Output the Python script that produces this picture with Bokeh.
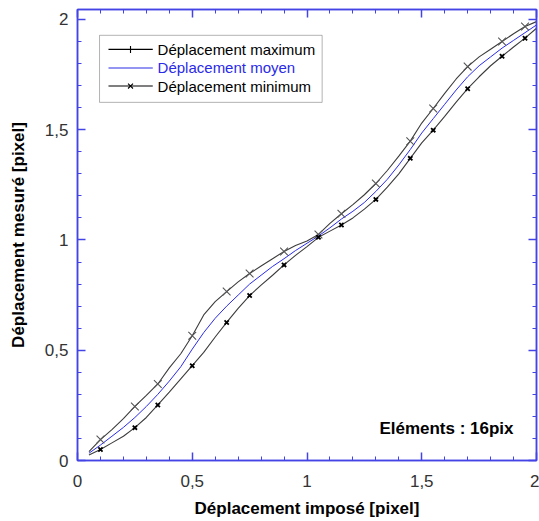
from bokeh.plotting import figure
from bokeh.models import (Range1d, LinearAxis, SingleIntervalTicker,
                          CustomJSTickFormatter, BoxAnnotation, Label)
from bokeh.embed import file_html
from bokeh.resources import INLINE

# Imposed displacement (pixel)
imposed = [0.05, 0.10, 0.15, 0.20, 0.25, 0.30, 0.35, 0.40, 0.45, 0.50,
           0.55, 0.60, 0.65, 0.70, 0.75, 0.80, 0.85, 0.90, 0.95, 1.00,
           1.05, 1.10, 1.15, 1.20, 1.25, 1.30, 1.35, 1.40, 1.45, 1.50,
           1.55, 1.60, 1.65, 1.70, 1.75, 1.80, 1.85, 1.90, 1.95, 2.00]

# Measured displacement: maximum, mean, minimum (pixel)
disp_max = [0.040, 0.095, 0.140, 0.190, 0.245, 0.295, 0.347, 0.420, 0.484, 0.566,
            0.660, 0.720, 0.766, 0.810, 0.848, 0.882, 0.915, 0.948, 0.975, 0.995,
            1.025, 1.075, 1.119, 1.160, 1.205, 1.256, 1.315, 1.380, 1.448, 1.530,
            1.596, 1.665, 1.730, 1.786, 1.830, 1.865, 1.900, 1.935, 1.968, 1.990]
disp_mean = [0.033, 0.070, 0.110, 0.150, 0.195, 0.245, 0.300, 0.360, 0.425, 0.505,
             0.580, 0.645, 0.700, 0.750, 0.800, 0.840, 0.880, 0.915, 0.952, 0.985,
             1.018, 1.055, 1.095, 1.130, 1.170, 1.220, 1.275, 1.340, 1.410, 1.485,
             1.550, 1.615, 1.680, 1.740, 1.790, 1.830, 1.870, 1.905, 1.940, 1.975]
disp_min = [0.025, 0.050, 0.080, 0.110, 0.149, 0.195, 0.252, 0.310, 0.370, 0.430,
            0.490, 0.560, 0.626, 0.690, 0.748, 0.795, 0.840, 0.887, 0.930, 0.970,
            1.012, 1.040, 1.068, 1.100, 1.140, 1.184, 1.240, 1.300, 1.370, 1.440,
            1.498, 1.560, 1.625, 1.686, 1.740, 1.790, 1.833, 1.875, 1.915, 1.960]

# Imposed displacements that carry a symbol on the max / min curves
marked = [0.10, 0.25, 0.35, 0.50, 0.65, 0.75, 0.90, 1.05, 1.15, 1.30,
          1.45, 1.55, 1.70, 1.85, 1.95]

series_names = ["Déplacement maximum", "Déplacement moyen", "Déplacement minimum"]
note_text = "Eléments : 16pix"

AXIS_BLUE = "#4343e6"
CURVE = "#3c3c3c"
MEAN_BLUE = "#2a2ae8"
FONT = "Liberation Sans"

p = figure(width=539, height=521,
           output_backend="svg", toolbar_location=None,
           x_range=Range1d(0, 2), y_range=Range1d(0, 2.045),
           min_border_left=77, min_border_right=3,
           min_border_top=9, min_border_bottom=61,
           background_fill_color="white", border_fill_color="white")
p.grid.visible = False
p.outline_line_color = AXIS_BLUE
p.outline_line_width = 1.5

fmt = CustomJSTickFormatter(code="return tick.toString().replace('.', ',');")
blank = CustomJSTickFormatter(code="return '';")


def style_axis(ax, labelled=True):
    ax.ticker = SingleIntervalTicker(interval=0.5, num_minor_ticks=5)
    ax.axis_line_color = AXIS_BLUE
    ax.axis_line_width = 1.5
    ax.major_tick_line_color = AXIS_BLUE
    ax.minor_tick_line_color = AXIS_BLUE
    ax.major_tick_line_width = 1.5
    ax.minor_tick_line_width = 1
    ax.major_tick_in = 8
    ax.major_tick_out = 0
    ax.minor_tick_in = 4
    ax.minor_tick_out = 0
    if labelled:
        ax.formatter = fmt
        ax.major_label_text_font = FONT
        ax.major_label_text_font_size = "17px"
        ax.major_label_text_color = "#333333"
        ax.axis_label_text_font = FONT
        ax.axis_label_text_font_size = "17px"
        ax.axis_label_text_font_style = "bold"
        ax.axis_label_text_color = "black"
    else:
        ax.formatter = blank
        ax.major_label_text_font_size = "1px"
        ax.major_label_standoff = 0
        ax.axis_label = None


style_axis(p.xaxis[0])
style_axis(p.yaxis[0])
p.xaxis[0].axis_label = "Déplacement imposé [pixel]"
p.yaxis[0].axis_label = "Déplacement mesuré [pixel]"
p.xaxis[0].major_label_standoff = 14
p.xaxis[0].axis_label_standoff = 9
p.yaxis[0].major_label_standoff = 9
p.yaxis[0].axis_label_standoff = 14

top_ax = LinearAxis()
right_ax = LinearAxis()
style_axis(top_ax, labelled=False)
style_axis(right_ax, labelled=False)
p.add_layout(top_ax, "above")
p.add_layout(right_ax, "right")

# Curves
p.line(imposed, disp_max, line_color=CURVE, line_width=1.1)
p.line(imposed, disp_mean, line_color=MEAN_BLUE, line_width=1.0)
p.line(imposed, disp_min, line_color=CURVE, line_width=1.1)

idx = [imposed.index(v) for v in marked]
p.scatter([imposed[i] for i in idx], [disp_max[i] for i in idx],
          marker="x", size=11, line_color="#555555", line_width=1.1)
p.scatter([imposed[i] for i in idx], [disp_min[i] for i in idx],
          marker="x", size=6, line_color="black", line_width=1.8)

# Legend box
p.add_layout(BoxAnnotation(left=0.096, right=1.066, top=1.928, bottom=1.624,
                           fill_color="white", fill_alpha=1.0,
                           line_color="black", line_width=1, level="underlay"))
rows = [1.864, 1.780, 1.698]
key_colors = ["black", MEAN_BLUE, "black"]
p.segment(x0=[0.135] * 3, y0=rows, x1=[0.328] * 3, y1=rows,
          line_color=key_colors, line_width=1.1)
p.scatter([0.231], [rows[0]], marker="dash", angle=1.5708, size=7,
          line_color="black", line_width=1.1)
p.scatter([0.231], [rows[2]], marker="x", size=7,
          line_color="black", line_width=1.1)
for name, yy, c in zip(series_names, rows, key_colors):
    p.add_layout(Label(x=0.349, y=yy, text=name, text_font=FONT,
                       text_font_size="15px", text_color=c,
                       text_baseline="middle", text_align="left"))

p.add_layout(Label(x=1.90, y=0.145, text=note_text, text_font=FONT,
                   text_font_size="17px", text_font_style="bold",
                   text_color="black", text_baseline="middle",
                   text_align="right"))

open("out.html", "w").write(file_html(p, INLINE))
